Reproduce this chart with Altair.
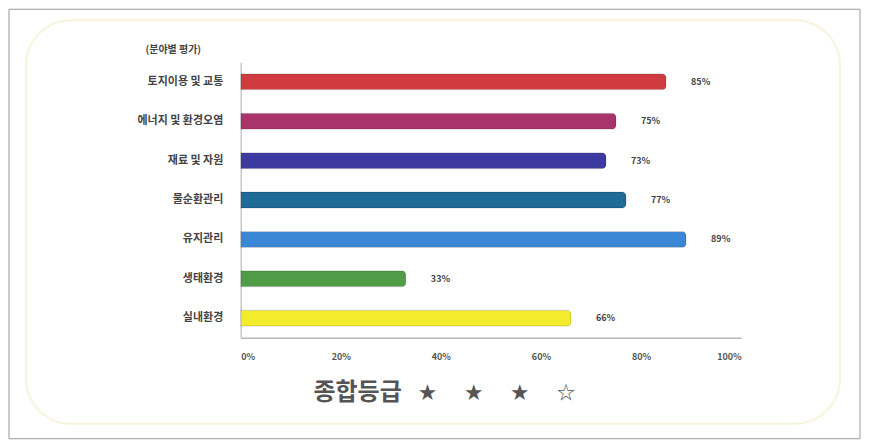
import altair as alt
import pandas as pd

categories = ["토지이용 및 교통", "에너지 및 환경오염", "재료 및 자원", "물순환관리", "유지관리", "생태환경", "실내환경"]
values = [85, 75, 73, 77, 89, 33, 66]
colors = ["#cf3b3f", "#a9346b", "#3c3aa0", "#1f6a96", "#3a87d6", "#4f9b46", "#f3ec2c"]
x_ticks = [0, 20, 40, 60, 80, 100]
title_word = "종합등급"
stars = ["★", "★", "★", "☆"]
axis_title = "(분야별 평가)"

df = pd.DataFrame({"cat": categories, "val": values, "color": colors})
df["label"] = df["val"].astype(str) + "%"

FONT = "Noto Sans CJK KR"
one = pd.DataFrame({"t": [title_word]})
star_text = ("\u00a0" * 7).join(stars)
star_df = pd.DataFrame({"t": [star_text]})

frame = alt.Chart(one).mark_rect(
    fill=None, stroke="#9a9a9a", strokeWidth=1, clip=False
).encode(x=alt.value(-232), x2=alt.value(620), y=alt.value(-53), y2=alt.value(377))

soft = alt.Chart(one).mark_rect(
    fill=None, stroke="#f8f4dc", strokeWidth=2, cornerRadius=45, clip=False
).encode(x=alt.value(-215), x2=alt.value(600), y=alt.value(-42), y2=alt.value(362))

base = alt.Chart(df)

bars = base.mark_bar(size=16, cornerRadiusEnd=4, stroke="#00000022", strokeWidth=1).encode(
    x=alt.X("val:Q", scale=alt.Scale(domain=[0, 100], nice=False),
            axis=alt.Axis(values=x_ticks, labelExpr="datum.value + '%'", title=None,
                          ticks=False, grid=False, domainColor="#b8b8b8", domainWidth=1.5,
                          labelFont=FONT, labelFontSize=9, labelFontWeight="bold",
                          labelColor="#555555", labelPadding=15)),
    y=alt.Y("cat:N", sort=categories,
            axis=alt.Axis(title=axis_title, titleAngle=0, titleX=-68, titleY=-8,
                          titleAlign="center", titleFont=FONT, titleFontSize=10,
                          titleFontWeight="bold", titleColor="#444444",
                          ticks=False, grid=False, domainColor="#c8c8c8", domainWidth=1.5,
                          labelFont=FONT, labelFontSize=11, labelFontWeight="bold",
                          labelColor="#444444", labelPadding=18)),
    color=alt.Color("color:N", scale=None),
)

labels = base.mark_text(align="left", dx=25, font=FONT, fontSize=9, fontWeight="bold",
                        color="#444444").encode(
    x="val:Q", y=alt.Y("cat:N", sort=categories), text="label:N"
)

title = alt.Chart(one).mark_text(
    font=FONT, fontSize=24, fontWeight="bold", color="#555555", align="center", baseline="middle"
).encode(x=alt.value(117), y=alt.value(331), text="t:N")

star_mark = alt.Chart(star_df).mark_text(
    font=FONT, fontSize=18, color="#555555", align="left", baseline="middle"
).encode(x=alt.value(178), y=alt.value(332), text="t:N")

chart = alt.layer(frame, soft, bars, labels, title, star_mark).properties(
    width=501, height=276,
    autosize=alt.AutoSizeParams(type="none"),
    padding={"left": 233, "top": 54, "right": 122, "bottom": 102},
).configure(background="white").configure_view(stroke=None)

chart.save("out.html", embed_options={"renderer": "svg", "actions": False})
